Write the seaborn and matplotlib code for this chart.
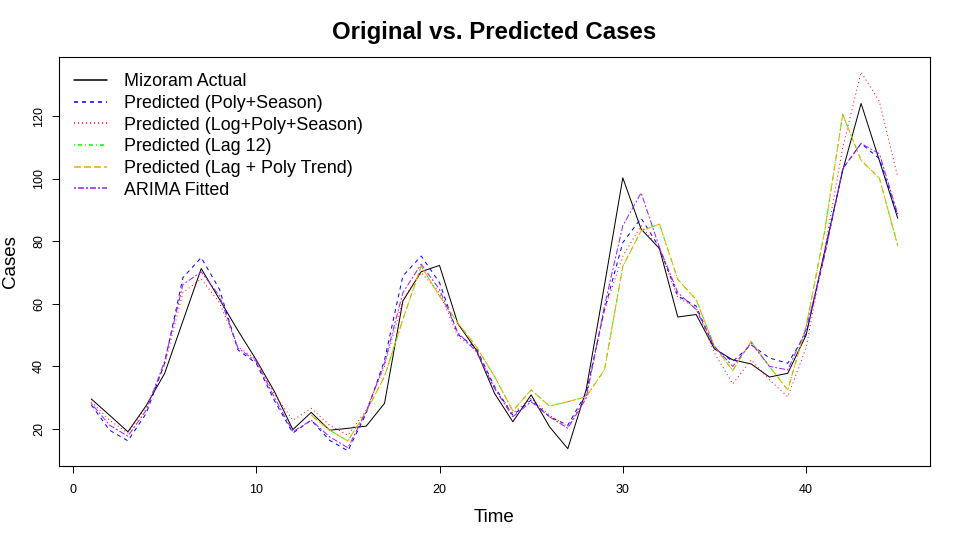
import numpy as np
import pandas as pd
import matplotlib
matplotlib.use("Agg")
import matplotlib.pyplot as plt
from matplotlib.lines import Line2D
import seaborn as sns

time = list(range(1, 46))
actual = [29.6, 24.4, 19.1, 27.5, 37.7, 54.5, 71.3, 61.4, 51.5, 42.1,
          31.9, 19.8, 25.3, 19.6, 20.2, 20.9, 28.2, 60.9, 70.3, 72.3,
          53.7, 45.3, 31.4, 22.3, 30.9, 20.7, 13.7, 32.5, 66.0, 100.3,
          83.9, 77.7, 55.8, 56.6, 45.6, 42.1, 40.8, 36.6, 37.8, 50.0,
          76.5, 102.7, 124.1, 105.8, 87.4]
poly_season = [27.7, 19.6, 16.2, 25.0, 41.0, 68.4, 74.8, 64.6, 45.3, 41.0,
               29.0, 18.7, 22.8, 16.4, 13.0, 25.0, 42.0, 68.9, 75.3, 66.8,
               50.2, 45.9, 33.5, 24.4, 29.3, 23.9, 21.2, 31.4, 58.2, 79.6,
               87.4, 78.0, 62.5, 59.3, 45.9, 41.6, 46.9, 42.7, 41.0, 50.5,
               75.3, 103.2, 111.3, 106.4, 88.2]
log_poly_season = [28.7, 22.8, 18.7, 27.1, 40.5, 63.6, 68.0, 60.3, 46.4, 42.1,
                   31.0, 22.8, 26.6, 21.2, 18.0, 26.0, 40.0, 61.4, 70.0, 63.6,
                   49.6, 45.3, 33.0, 25.0, 29.8, 24.4, 20.7, 30.3, 58.0, 75.3,
                   85.0, 77.5, 62.0, 58.7, 44.3, 34.4, 42.1, 35.7, 30.3, 46.0,
                   77.0, 110.0, 134.1, 124.7, 100.5]
nan = float("nan")
lag12 = [nan] * 12 + [24.4, 19.6, 16.2, 25.5, 36.8, 55.0, 72.1, 62.5,
                      53.9, 46.4, 36.8, 25.8, 32.5, 27.3, 28.7, 30.3, 38.9, 72.0,
                      83.4, 85.5, 67.8, 61.4, 46.4, 38.7, 48.0, 40.0, 32.5, 52.8,
                      82.8, 120.6, 105.9, 100.2, 78.6]
lag_poly = [nan] * 12 + [24.4, 19.6, 16.2, 25.5, 36.8, 55.0, 72.1, 62.5,
                         53.9, 46.4, 36.8, 25.8, 32.5, 27.3, 28.7, 30.3, 38.9, 72.0,
                         83.4, 85.5, 67.8, 61.4, 46.4, 38.7, 48.0, 40.0, 32.5, 52.8,
                         82.8, 120.6, 105.9, 100.2, 78.6]
arima = [28.2, 21.2, 17.7, 26.0, 41.6, 66.2, 70.2, 62.5, 45.9, 41.6,
         30.0, 19.1, 22.8, 17.5, 14.0, 25.5, 41.0, 63.6, 72.7, 64.6,
         50.8, 44.8, 33.0, 23.9, 28.7, 23.9, 20.2, 29.8, 59.3, 85.0,
         95.5, 78.0, 63.6, 58.2, 46.4, 40.0, 47.5, 40.0, 38.9, 51.8,
         75.3, 103.2, 111.3, 108.0, 88.7]

labels = ["Mizoram Actual", "Predicted (Poly+Season)", "Predicted (Log+Poly+Season)",
          "Predicted (Lag 12)", "Predicted (Lag + Poly Trend)", "ARIMA Fitted"]
series = [actual, poly_season, log_poly_season, lag12, lag_poly, arima]
colors = ["black", "blue", "red", "#00FF00", "#FFA500", "#A020F0"]
dash_px = [None, (4, 4), (1, 3), (1, 3, 4, 3), (7, 3), (2, 2, 6, 2)]

sns.set_style("white")
plt.rcParams["font.family"] = ["Liberation Sans", "DejaVu Sans"]
plt.rcParams["lines.scale_dashes"] = False
for k in ["text.color", "axes.labelcolor", "xtick.color", "ytick.color"]:
    plt.rcParams[k] = "black"

fig = plt.figure(figsize=(9.6, 5.4), dpi=100)
ax = fig.add_axes([59 / 960, 1 - 466 / 540, (930 - 59) / 960, (466 - 57) / 540])

px = 0.72  # one pixel in points
handles = []
for lab, vals, col, dsh in zip(labels, series, colors, dash_px):
    df = pd.DataFrame({"Time": time, "Cases": vals}).dropna()
    sns.lineplot(data=df, x="Time", y="Cases", color=col, linewidth=px,
                 ax=ax, estimator=None, legend=False)
    line = ax.lines[-1]
    h = Line2D([], [], color=col, linewidth=1.1)
    if dsh is not None:
        line.set_dashes([d * px for d in dsh])
        h.set_dashes([d * px for d in dsh])
    handles.append(h)

allv = np.concatenate([np.array(s, dtype=float) for s in series])
ymin, ymax = np.nanmin(allv), np.nanmax(allv)
yr = ymax - ymin
ax.set_xlim(1 - 0.04 * 44, 45 + 0.04 * 44)
ax.set_ylim(ymin - 0.04 * yr, ymax + 0.04 * yr)

ax.set_xticks([0, 10, 20, 30, 40])
ax.set_yticks([20, 40, 60, 80, 100, 120])
ax.tick_params(axis="both", which="both", direction="out", length=5, width=0.7,
               labelsize=9, color="black", labelcolor="black", left=True, bottom=True)
ax.tick_params(axis="x", pad=8)
ax.tick_params(axis="y", pad=5)
for t in ax.get_yticklabels():
    t.set_rotation(90)
    t.set_va("center")
for s in ax.spines.values():
    s.set_visible(True)
    s.set_color("black")
    s.set_linewidth(0.8)

ax.set_xlabel("Time", fontsize=13.5, labelpad=9)
ax.set_ylabel("Cases", fontsize=13.5, labelpad=10)
ax.set_title("Original vs. Predicted Cases", fontsize=17.3, fontweight="bold", pad=13)

leg = ax.legend(handles=handles, labels=labels, loc="upper left",
                bbox_to_anchor=(0.017, 0.96), frameon=False,
                fontsize=12.9, handlelength=1.85, handletextpad=0.95,
                labelspacing=0.26, borderpad=0, borderaxespad=0)

fig.savefig("out.png", dpi=100)
